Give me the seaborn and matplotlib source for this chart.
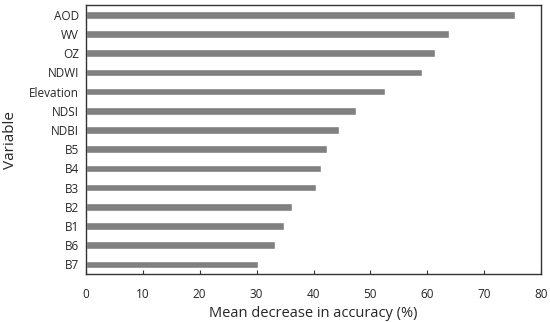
import matplotlib

matplotlib.use("Agg")
import matplotlib.pyplot as plt
import seaborn as sns
import pandas as pd

# 変数名と精度の平均減少量
variables = ["AOD", "WV", "OZ", "NDWI", "Elevation", "NDSI", "NDBI",
             "B5", "B4", "B3", "B2", "B1", "B6", "B7"]
mean_decrease = [75.4, 63.8, 61.4, 59.0, 52.5, 47.4, 44.4,
                 42.4, 41.4, 40.5, 36.3, 34.9, 33.3, 30.2]
x_ticks = [0, 10, 20, 30, 40, 50, 60, 70, 80]

df = pd.DataFrame({"Variable": variables, "Mean decrease": mean_decrease})

sns.set_style("white")
plt.rcParams["font.family"] = ["Open Sans", "DejaVu Sans"]

fig = plt.figure(figsize=(5.5, 3.22), dpi=100)
ax = fig.add_axes([0.156, 0.149, 0.828, 0.835])

sns.barplot(data=df, x="Mean decrease", y="Variable", color="#808080",
            width=0.4, saturation=1, ax=ax)

ax.set_xlim(0, 80)
ax.set_xticks(x_ticks)
ax.tick_params(axis="x", direction="in", length=3, color="#333333",
               labelsize=8.5, pad=10, bottom=True)
ax.tick_params(axis="y", length=0, labelsize=8.5, pad=5)
for s in ax.spines.values():
    s.set_color("#333333")
    s.set_linewidth(1.0)

ax.set_xlabel("Mean decrease in accuracy (%)", fontsize=10.5, labelpad=4)
ax.set_ylabel("Variable", fontsize=11, labelpad=8)

fig.savefig("out.png", dpi=100)
plt.close()
